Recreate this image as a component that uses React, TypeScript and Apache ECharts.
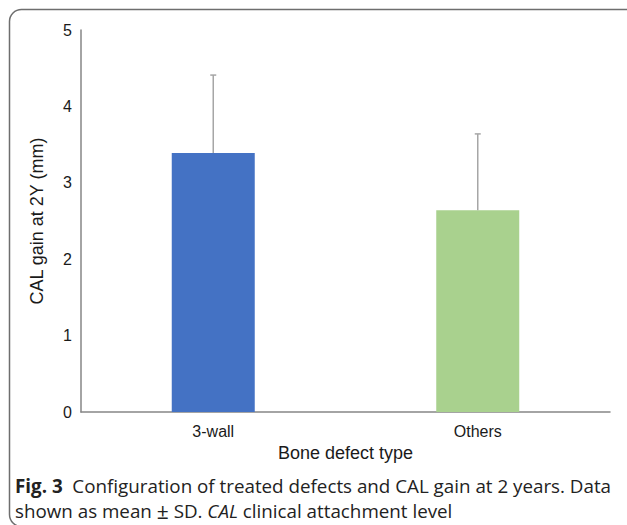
import React, { useEffect, useRef } from "react";
import * as echarts from "echarts";

const categories = ["3-wall", "Others"];
const means = [3.39, 2.64];
const sds = [1.02, 1.0];
const barColors = ["#4472C4", "#A9D18E"];
const yTicks = { min: 0, max: 5, interval: 1 };

export default function App() {
  const ref = useRef<HTMLDivElement>(null);
  useEffect(() => {
    if (!ref.current) return;
    const chart = echarts.init(ref.current, null, { renderer: "svg" });
    const axisFont = "'Liberation Sans', Arial, sans-serif";
    const capFont = "'Open Sans', sans-serif";
    const capSize = 18.8;
    const lh = 22;
    chart.setOption({
      animation: false,
      backgroundColor: "#ffffff",
      grid: { left: 81, right: 17, top: 30, bottom: 113, containLabel: false },
      xAxis: {
        type: "category",
        data: categories,
        axisLine: { show: true, lineStyle: { color: "#868686", width: 1.5 } },
        axisTick: { show: false },
        axisLabel: { color: "#1a1a1a", fontSize: 16, fontFamily: axisFont, margin: 11 },
        name: "Bone defect type",
        nameLocation: "middle",
        nameGap: 31,
        nameTextStyle: { color: "#1a1a1a", fontSize: 18, fontFamily: axisFont },
      },
      yAxis: {
        type: "value",
        min: yTicks.min,
        max: yTicks.max,
        interval: yTicks.interval,
        axisLine: { show: true, lineStyle: { color: "#868686", width: 1.5 } },
        axisTick: { show: false },
        splitLine: { show: false },
        axisLabel: { color: "#1a1a1a", fontSize: 16, fontFamily: axisFont, margin: 9 },
        name: "CAL gain at 2Y (mm)",
        nameLocation: "middle",
        nameGap: 35,
        nameRotate: 90,
        nameTextStyle: { color: "#1a1a1a", fontSize: 18, fontFamily: axisFont },
      },
      series: [
        {
          type: "bar",
          barWidth: 83,
          data: means.map((v, i) => ({ value: v, itemStyle: { color: barColors[i] } })),
        },
        {
          type: "custom",
          z: 10,
          encode: { x: 0, y: 1 },
          data: categories.map((c, i) => [i, means[i], sds[i]]),
          renderItem: (params: any, api: any) => {
            const x = api.value(0);
            const m = api.value(1);
            const s = api.value(2);
            const p0 = api.coord([x, m]);
            const p1 = api.coord([x, m + s]);
            const st = { stroke: "#a6a6a6", lineWidth: 1.5 };
            return {
              type: "group",
              children: [
                { type: "line", shape: { x1: p0[0], y1: p0[1], x2: p1[0], y2: p1[1] }, style: st },
                { type: "line", shape: { x1: p1[0] - 3, y1: p1[1], x2: p1[0] + 3, y2: p1[1] }, style: st },
              ],
            };
          },
        },
      ],
      graphic: [
        {
          type: "rect",
          shape: { x: 9.5, y: 9.5, width: 640, height: 517, r: 12 },
          style: { fill: "none", stroke: "#6e6e6e", lineWidth: 1.5 },
          silent: true,
        },
        {
          type: "text",
          x: 15,
          y: 486,
          style: {
            text: "{b|Fig. 3}  Configuration of treated defects and CAL gain at 2 years. Data",
            fontFamily: capFont,
            fontSize: capSize,
            lineHeight: lh,
            fill: "#222",
            verticalAlign: "middle",
            rich: {
              b: { fontWeight: "bold", fontFamily: capFont, fontSize: capSize, lineHeight: lh, fill: "#222" },
            },
          },
        },
        {
          type: "text",
          x: 15,
          y: 511,
          style: {
            text: "shown as mean {pm|\u00B1} SD. {i|CAL} clinical attachment level",
            fontFamily: capFont,
            fontSize: capSize,
            lineHeight: lh,
            fill: "#222",
            verticalAlign: "middle",
            rich: {
              i: { fontStyle: "italic", fontFamily: capFont, fontSize: capSize, lineHeight: lh, fill: "#222" },
              pm: { fontFamily: capFont, fontSize: 21, lineHeight: lh, fill: "#222" },
            },
          },
        },
      ],
    });
    return () => chart.dispose();
  }, []);
  return (
    <div
      ref={ref}
      style={{ position: "fixed", left: 0, top: 0, width: 627, height: 525 }}
    />
  );
}
